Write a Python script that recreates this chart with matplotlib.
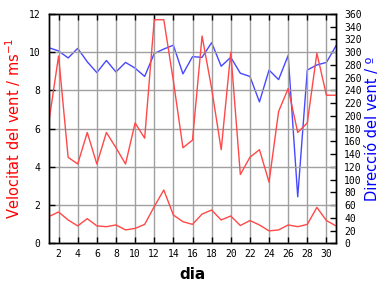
import matplotlib
matplotlib.use("Agg")
import matplotlib.pyplot as plt
from matplotlib.ticker import MultipleLocator

days = list(range(1, 32))
gust = [6.4, 9.8, 4.5, 4.15, 5.8, 4.15, 5.8, 5.0, 4.15, 6.3, 5.5,
        11.7, 11.7, 8.5, 5.0, 5.4, 10.85, 8.1, 4.9, 10.0, 3.6,
        4.5, 4.9, 3.2, 6.9, 8.1, 5.8, 6.3, 9.95, 7.75, 7.75]
mean = [1.4, 1.64, 1.22, 0.91, 1.29, 0.91, 0.87, 0.96, 0.70, 0.78, 0.99,
        1.92, 2.79, 1.48, 1.13, 0.99, 1.53, 1.74, 1.22, 1.43, 0.93,
        1.19, 0.96, 0.65, 0.70, 0.96, 0.87, 0.99, 1.88, 1.19, 0.91]
direction = [307, 302, 291, 306, 285, 268, 287, 269, 284, 275, 262,
             298, 305, 311, 266, 293, 292, 315, 278, 292, 267,
             262, 222, 272, 257, 295, 73, 272, 280, 284, 310]

red = '#ff4848'
blue = '#4848ff'
grid_c = '#a0a0a0'
mono = 'DejaVu Sans Mono'

fig = plt.figure(figsize=(3.84, 2.88), dpi=100)
ax = fig.add_axes([49/384, 1-243.3/288, (336-49)/384, (243.3-14)/288])
ax2 = ax.twinx()

ax.plot(days, gust, color=red, lw=1.0)
ax.plot(days, mean, color=red, lw=1.0)
ax2.plot(days, direction, color=blue, lw=1.0)

ax.set_xlim(1, 31)
ax.set_ylim(0, 12)
ax2.set_ylim(0, 360)
ax.xaxis.set_major_locator(MultipleLocator(2))
ax.yaxis.set_major_locator(MultipleLocator(2))
ax2.yaxis.set_major_locator(MultipleLocator(20))
ax.grid(True, color=grid_c, lw=1.0)
ax.set_axisbelow(True)
ax2.set_zorder(ax.get_zorder() - 1)
ax.patch.set_visible(False)

ax.tick_params(axis='x', direction='in', top=True, length=4, width=1, labelsize=7, pad=4)
ax.tick_params(axis='y', direction='in', length=4, width=1, labelsize=7, pad=6)
ax2.tick_params(axis='y', direction='in', length=4, width=1, labelsize=7, pad=6)
for lab in ax.get_xticklabels() + ax.get_yticklabels() + ax2.get_yticklabels():
    lab.set_family(mono)
for a in (ax, ax2):
    for s in a.spines.values():
        s.set_linewidth(1.0)

ax.set_xlabel('dia', fontsize=11, fontweight='bold', labelpad=6)
ax.set_ylabel('Velocitat del vent / ms$^{-1}$', color='#ff0000', fontsize=10.5, labelpad=4)
ax2.set_ylabel('Direcció del vent / º', color='#0000ff', fontsize=10.5, labelpad=2)

fig.savefig('out.png', dpi=100)
